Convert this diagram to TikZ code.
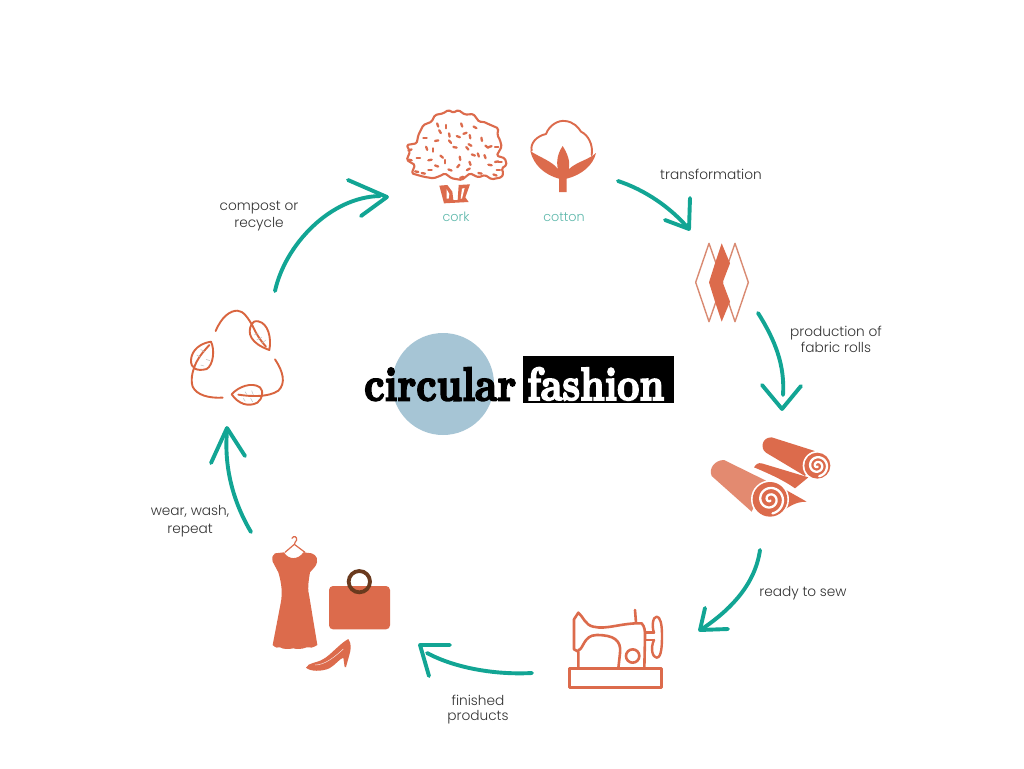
\documentclass[tikz,border=0pt]{standalone}
\usepackage{fontspec}
\setmainfont{Poppins}
\newfontfamily\captionfont[UprightFont=* Light]{Poppins}
\newfontfamily\titlefont[BoldFeatures={FakeBold=4}]{Latin Modern Roman}
\usetikzlibrary{arrows.meta}
\definecolor{rust}{HTML}{DC6B4C}
\definecolor{rustpale}{HTML}{E38A70}
\definecolor{rustline}{HTML}{D98A72}
\definecolor{leafstroke}{HTML}{D9653F}
\definecolor{flowteal}{HTML}{12A594}
\definecolor{plantteal}{HTML}{5DB8AB}
\definecolor{captiongrey}{HTML}{333333}
\definecolor{discblue}{HTML}{A6C5D5}
\definecolor{ringbrown}{HTML}{6A3A1E}
\tikzset{
  flow/.style={draw=flowteal,line width=3.9pt,line cap=round,line join=round},
  caption/.style={text=captiongrey,align=center,inner sep=0pt,font=\captionfont\fontsize{13.7}{17.5}\selectfont},
  plantname/.style={text=plantteal,inner sep=0pt,font=\captionfont\fontsize{12.8}{15}\selectfont},
  outline/.style={draw=rust,line width=2pt,line join=round,line cap=round},
  leaf/.style={draw=leafstroke,line width=1.9pt,line join=round,line cap=round},
  hatch/.style={draw=black!25,line width=.5pt},
}
% white spiral wound inside a fabric roll: centre x, centre y, outer radius
\newcommand{\rollspiral}[3]{%
  \draw[white,line width=2.3pt,line cap=round]
    plot[domain=70:800,samples=100,smooth]
      ({#1+#3*(\x/800)*cos(\x)},{#2+#3*(\x/800)*sin(\x)});}
\begin{document}
\begin{tikzpicture}[x=1pt,y=-1pt]
\useasboundingbox (0,0) rectangle (1024,768);
\fill[white] (0,0) rectangle (1024,768);

% centre title
\fill[discblue] (443,384) circle (51);
\fill[black] (523,356) rectangle (674,403);
\node[anchor=base west,inner sep=0pt] (word1) at (364,400.5)
  {\resizebox{152pt}{33pt}{\titlefont\bfseries circular}};
\node[anchor=base west,inner sep=0pt,text=white] (word2) at (527,400)
  {\resizebox{137pt}{32.5pt}{\titlefont\bfseries fashion}};

% cork oak
\begin{scope}[shift={(390,90)},scale=1/3]
  \draw[draw=rust,line width=2.1pt,line join=round,rounded corners=1.5pt]
    (175,60)--(190,68)--(205,60)--(225,74)--(250,72)--(268,96)--(280,95)--(295,102)--(325,115)
    --(322,135)--(330,150)--(335,170)--(320,197)--(345,205)--(350,225)--(335,235)--(340,250)--(335,262)
    --(305,268)--(285,255)--(265,262)--(240,250)--(215,270)--(185,265)--(165,250)--(150,258)
    --(130,265)--(100,260)--(65,250)--(75,225)--(50,210)--(60,185)--(50,165)--(80,160)
    --(85,135)--(100,105)--(125,95)--(135,75)--(160,70)--cycle;
  \foreach \px/\py/\ang in {143/105/70,150/125/60,168/110/90,215/105/70,255/112/30,
    205/140/20,225/130/-20,240/140/80,178/135/80,240/165/30,275/148/80,300/170/-20,
    320/170/0,105/143/0,140/152/-10,180/155/50,195/172/10,110/175/70,130/180/90,
    232/175/50,265/195/70,285/200/70,210/205/80,240/220/70,155/200/40,120/210/-10,
    85/205/0,60/210/10,140/228/20,205/228/-50,180/240/20,235/238/-30,270/250/10,
    320/215/-10,60/180/-20,300/225/10,165/215/90,215/262/-20,100/250/10,250/195/20,
    330/215/0,120/240/0,290/170/40,80/245/10,315/255/20,325/240/0}
    \draw[draw=rust,line width=2.3pt,line cap=round]
      (\px,\py) ++(\ang:5) -- ++(\ang+180:10);
  \fill[rust] (148,287)--(172,285)--(187,305)--(190,330)--(203,330)--(206,285)--(240,283)
    --(226,322)--(236,336)--(162,340)--cycle;
  \fill[white] (170,298)--(178,312)--(176,326)--(170,326)--cycle;
  \fill[white] (216,296)--(224,294)--(216,326)--(212,326)--cycle;

  % cotton boll
  \draw[outline,line width=1.9pt]
    (425,182) .. controls (420,160) and (440,138) .. (468,132)
    .. controls (478,105) and (505,90) .. (525,93)
    .. controls (550,95) and (565,112) .. (573,125)
    .. controls (595,135) and (610,165) .. (605,195);
  \fill[rust] (421,183) .. controls (445,200) and (490,215) .. (504,238)
    .. controls (498,215) and (503,190) .. (518,168)
    .. controls (532,190) and (542,215) .. (536,238)
    .. controls (560,215) and (595,210) .. (618,189)
    .. controls (610,225) and (575,255) .. (530,266)
    -- (530,306) -- (507,306) -- (507,266)
    .. controls (465,255) and (430,225) .. cycle;
\end{scope}
\node[plantname] (cork) at (456,217) {cork};
\node[plantname] (cotton) at (564,217) {cotton};

% woven fabric swatch
\begin{scope}[shift={(680,230)},scale=1/3]
  \draw[draw=rustline,line width=1.4pt,line join=round] (87,40)--(128,157)--(87,275)--(47,157)--cycle;
  \draw[draw=rustline,line width=1.4pt,line join=round] (165,40)--(205,157)--(165,275)--(125,157)--cycle;
  \fill[rust] (125,40)--(150,100)--(128,157)--(150,215)--(125,275)--(105,215)--(87,157)--(105,100)--cycle;

  % fabric rolls, back one first
  \fill[rust] (222,712) .. controls (228,702) and (235,698) .. (245,700)
    -- (385,742) -- (345,775) .. controls (310,750) and (265,730) .. cycle;
  \fill[rust] (275,622) .. controls (245,622) and (240,655) .. (258,668)
    -- (375,738) -- (420,668) -- cycle;
  \fill[white] (412,707) circle (44);
  \fill[rust] (412,707) circle (39);
  \rollspiral{412}{707}{32}

  \fill[rust] (318,780) -- (380,815) .. controls (345,815) and (325,830) .. (285,860) -- cycle;
  \fill[rustpale] (132,690) .. controls (105,690) and (85,715) .. (95,738)
    -- (215,845) -- (258,752) -- cycle;
  \fill[white] (270,808) circle (57);
  \fill[rust] (270,808) circle (52);
  \rollspiral{270}{808}{43}
\end{scope}

% sewing machine
\begin{scope}[shift={(550,590)},scale=1/3]
  \draw[outline,line width=2.6pt] (58,235) rectangle (335,292);
  \draw[outline,line width=2.6pt] (85,235) -- (85,185) -- (72,178) -- (72,88) -- (85,68)
    .. controls (100,80) and (105,105) .. (130,110)
    .. controls (170,120) and (215,98) .. (275,100)
    .. controls (285,110) and (285,125) .. (285,140) -- (283,235);
  \draw[outline,line width=2.6pt] (255,60) -- (258,98);
  \draw[outline,line width=2.6pt] (85,180) .. controls (100,180) and (100,135) .. (140,135)
    .. controls (190,135) and (215,150) .. (210,190) -- (205,235);
  \draw[outline,line width=2.6pt] (248,198) circle (20);
  \draw[outline,line width=2.4pt] (287,128) -- (312,128) (285,150) -- (312,150);
  \draw[outline,line width=2.4pt] (312,150) .. controls (300,175) and (308,203) .. (320,203)
    .. controls (335,203) and (336,165) .. (336,135)
    .. controls (336,100) and (330,80) .. (320,80)
    .. controls (308,80) and (305,110) .. (312,128);
\end{scope}

% dress, handbag and shoe
\begin{scope}[shift={(260,525)},scale=1/3]
  \draw[draw=rust,line width=1.2pt,line cap=round,line join=round]
    (96,40) .. controls (100,30) and (112,35) .. (110,45) .. controls (108,50) and (103,52) .. (103,58)
    -- (75,82) (103,58) -- (135,82);
  \fill[rust] (45,85) -- (72,82) .. controls (85,105) and (115,105) .. (130,82)
    -- (155,85) .. controls (170,90) and (178,105) .. (165,125)
    -- (150,142) .. controls (145,170) and (142,195) .. (148,215)
    -- (172,360) .. controls (160,368) and (150,370) .. (140,367)
    .. controls (125,373) and (110,373) .. (100,370)
    .. controls (85,373) and (70,373) .. (60,367)
    .. controls (55,370) and (45,368) .. (38,360)
    -- (62,235) .. controls (68,205) and (65,175) .. (55,142)
    -- (38,110) .. controls (35,95) and (38,90) .. cycle;
  \fill[rust,rounded corners=4pt] (207,183) rectangle (390,313);
  \draw[draw=ringbrown,line width=3.8pt] (298,170) circle (32);
  \fill[rust] (138,428) .. controls (145,412) and (170,415) .. (190,402)
    .. controls (210,392) and (240,355) .. (265,342)
    .. controls (275,355) and (273,375) .. (268,390) -- (258,426) -- (254,426)
    -- (250,398) .. controls (238,402) and (228,418) .. (208,430)
    .. controls (185,440) and (150,440) .. cycle;
  \draw[white!80!rust,line width=.5pt] (165,420) .. controls (195,420) and (225,395) .. (250,372);
\end{scope}

% recycling loop of three leaves
\begin{scope}[shift={(180,300)},scale=1/3]
  \draw[leaf] (107,93) .. controls (125,50) and (150,32) .. (172,32)
    .. controls (190,32) and (205,55) .. (218,78);
  \draw[leaf] (215,72) .. controls (200,100) and (212,130) .. (268,150)
    .. controls (275,115) and (265,70) .. (235,64)
    .. controls (225,62) and (218,66) .. cycle;
  \draw[leaf] (218,78) .. controls (228,100) and (240,120) .. (258,140);
  \draw[hatch] (222,105)--(235,100) (230,120)--(245,112) (245,130)--(258,120);

  \draw[leaf] (285,178) .. controls (310,215) and (318,250) .. (295,272)
    .. controls (265,292) and (215,290) .. (175,284);
  \draw[leaf] (155,283) .. controls (175,260) and (215,245) .. (240,262)
    .. controls (252,275) and (248,295) .. (232,308)
    .. controls (205,322) and (175,312) .. cycle;
  \draw[hatch] (195,275)--(200,283) (215,272)--(220,285) (190,295)--(196,304) (212,295)--(218,306);

  \draw[leaf] (128,293) .. controls (85,295) and (50,285) .. (38,260)
    .. controls (30,235) and (40,205) .. (50,185)
    .. controls (60,165) and (75,150) .. (88,135);
  \draw[leaf] (93,125) .. controls (60,130) and (35,150) .. (33,180)
    .. controls (32,205) and (50,215) .. (80,207)
    .. controls (100,195) and (105,150) .. cycle;
  \draw[hatch] (50,165)--(62,172) (62,148)--(74,156) (62,195)--(72,198) (78,178)--(90,182);
\end{scope}

% flow arrows round the cycle
\coordinate (cottonOut) at (618,181);
\coordinate (fabricIn) at (688,228);
\draw[flow] (cottonOut) .. controls (645,190) and (670,207) .. (fabricIn);
\draw[flow] (665,220) -- (689,229) -- (690,198);

\coordinate (fabricOut) at (758,313);
\coordinate (rollsIn) at (783,395);
\draw[flow] (fabricOut) .. controls (775,340) and (785,365) .. (rollsIn);
\draw[flow] (762,385) -- (782,409) -- (801,386);

\coordinate (rollsOut) at (760,550);
\coordinate (sewingIn) at (702,629);
\draw[flow] (rollsOut) .. controls (755,585) and (730,610) .. (sewingIn);
\draw[flow] (705,608) -- (700,630) -- (728,629);

\coordinate (sewingOut) at (532,673);
\coordinate (goodsIn) at (427,653);
\draw[flow] (sewingOut) .. controls (495,675) and (455,668) .. (goodsIn);
\draw[flow] (450,645) -- (420,645) -- (429,676);

\coordinate (goodsOut) at (251,532);
\coordinate (loopIn) at (227,431);
\draw[flow] (goodsOut) .. controls (232,500) and (224,465) .. (loopIn);
\draw[flow] (211,463) -- (227,428) -- (245,456);

\coordinate (loopOut) at (275,291);
\coordinate (plantsIn) at (380,196);
\draw[flow] (loopOut) .. controls (285,245) and (330,197) .. (plantsIn);
\draw[flow] (348,180) -- (387,197) -- (361,216);

% step captions
\node[caption] (t1) at (711,174.5) {transformation};
\node[caption] (t2) at (836,339) {production of\\[-1.5pt]fabric rolls};
\node[caption] (t3) at (803,593) {ready to sew};
\node[caption] (t4) at (478,710) {finished\\[-2.5pt]products};
\node[caption] (t5) at (190,521) {wear, wash,\\repeat};
\node[caption] (t6) at (259,216) {compost or\\recycle};
\end{tikzpicture}
\end{document}
